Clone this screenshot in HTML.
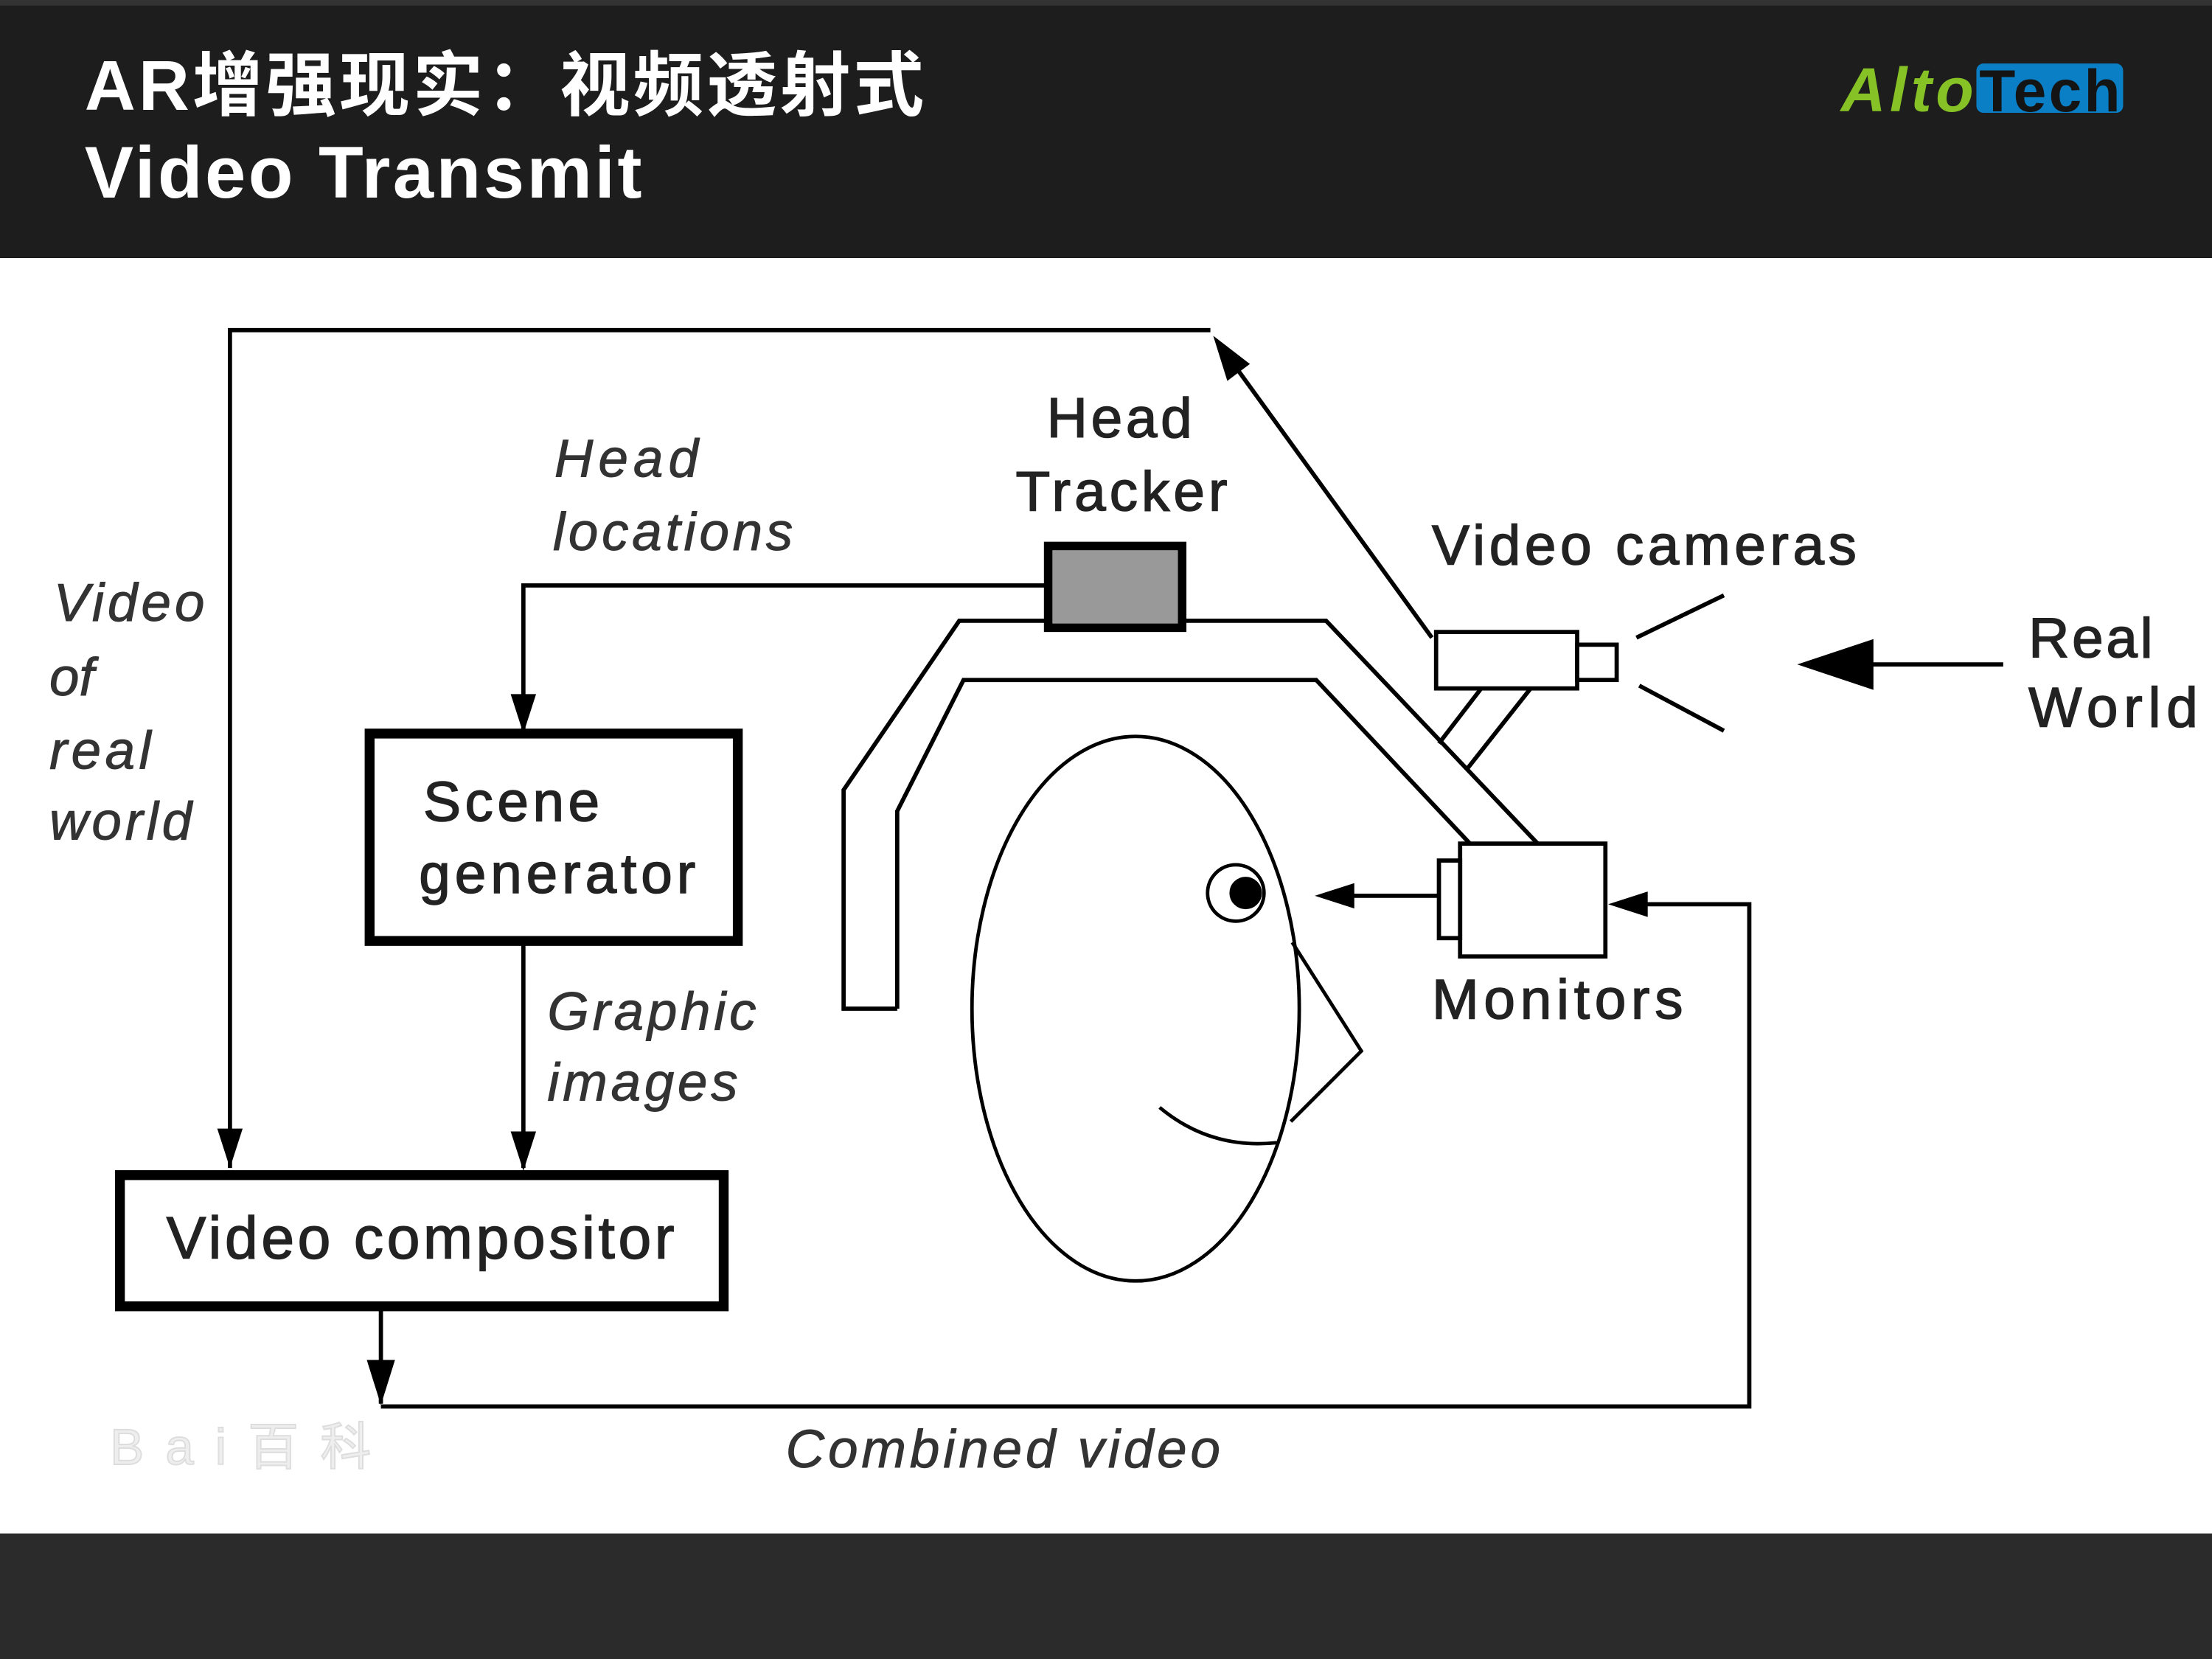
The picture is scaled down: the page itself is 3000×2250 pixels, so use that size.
<!DOCTYPE html>
<html><head><meta charset="utf-8"><style>
html,body{margin:0;padding:0;background:#fff;}
svg{display:block;}
</style></head><body>
<svg width="3000" height="2250" viewBox="0 0 1568 1176" preserveAspectRatio="none" xmlns="http://www.w3.org/2000/svg">
<rect x="0" y="0" width="1568" height="183" fill="#1c1d1c"/>
<rect x="0" y="0" width="1568" height="4" fill="#333"/>
<rect x="0" y="183" width="1568" height="904" fill="#fff"/>
<rect x="0" y="1087" width="1568" height="89" fill="#2b2b2b"/>
<text x="60" y="78" fill="#fff" font-family="Liberation Sans, Noto Sans CJK SC, sans-serif" font-weight="bold" font-size="50" textLength="595">AR增强现实：视频透射式</text>
<text x="60" y="140" fill="#fff" font-family="Liberation Sans, sans-serif" font-weight="bold" font-size="52" textLength="395">Video Transmit</text>
<text x="1305" y="79" fill="#86c226" font-family="Liberation Sans, sans-serif" font-weight="bold" font-style="italic" font-size="44" textLength="94">Alto</text>
<rect x="1401" y="45" width="104" height="35" rx="5" fill="#0a7fc6"/>
<text x="1403" y="79" fill="#141414" font-family="Liberation Sans, sans-serif" font-weight="bold" font-size="42" textLength="100">Tech</text>

<g fill="none" stroke="#000" stroke-width="3">
<polyline points="858,234 163,234 163,828"/>
<path d="M163,828 l-9,-28 h18 z" fill="#000" stroke="none"/>
<line x1="1015" y1="452" x2="870" y2="252"/>
<path d="M860,238 l26,20 l-16,12 z" fill="#000" stroke="none"/>
<polyline points="743,415 371,415 371,518"/>
<path d="M371,520 l-9,-28 h18 z" fill="#000" stroke="none"/>
<line x1="371" y1="667" x2="371" y2="828"/>
<path d="M371,830 l-9,-28 h18 z" fill="#000" stroke="none"/>
<line x1="270" y1="926" x2="270" y2="995"/>
<path d="M270,996 l-10,-32 h20 z" fill="#000" stroke="none"/>
<polyline points="270,997 1240,997 1240,641 1145,641"/>
<path d="M1140,641 l28,-9 v18 z" fill="#000" stroke="none"/>
<polyline points="636,715 598,715 598,560 680,440 940,440 1090,598"/>
<polyline points="636,715 636,575 683,482 933,482 1042,598"/>
<line x1="1020" y1="527" x2="1050" y2="488"/>
<line x1="1040" y1="545" x2="1085" y2="488"/>
<rect x="1018" y="448" width="100" height="40" fill="#fff"/>
<rect x="1118" y="457" width="28" height="25" fill="#fff"/>
<line x1="1160" y1="452" x2="1222" y2="422"/>
<line x1="1162" y1="486" x2="1222" y2="518"/>
<line x1="1420" y1="471" x2="1300" y2="471"/>
<path d="M1274,471 l54,-18 v36 z" fill="#000" stroke="none"/>
<rect x="1035" y="598" width="103" height="80" fill="#fff"/>
<rect x="1020" y="610" width="15" height="55" fill="#fff"/>
<line x1="1020" y1="635" x2="955" y2="635"/>
<path d="M932,635 l28,-9 v18 z" fill="#000" stroke="none"/>
<ellipse cx="805" cy="715" rx="116" ry="193" fill="#fff" stroke-width="2.5"/>
<polyline points="916,668 965,745 915,795" stroke-width="2.5"/>
<circle cx="876" cy="633" r="20" fill="#fff" stroke-width="2.5"/>
<circle cx="883" cy="633" r="10" fill="#000"/>
<path d="M822,785 Q858,815 905,810" stroke-width="2.5"/>
</g>
<rect x="743" y="387" width="95" height="58" fill="#999" stroke="#000" stroke-width="6"/>
<rect x="262" y="520" width="261" height="147" fill="#fff" stroke="#000" stroke-width="7"/>
<rect x="85" y="833" width="428" height="93" fill="#fff" stroke="#000" stroke-width="7"/>
<g font-family="Liberation Sans, sans-serif" font-size="40" fill="#222" stroke="#222" stroke-width="0.8">
<text x="300" y="582" textLength="125">Scene</text>
<text x="297" y="633" textLength="196">generator</text>
<text x="118" y="892" font-size="42" textLength="360">Video compositor</text>
<text x="742" y="310" textLength="103">Head</text>
<text x="720" y="362" textLength="150">Tracker</text>
<text x="1015" y="400" textLength="301">Video cameras</text>
<text x="1438" y="466" textLength="88">Real</text>
<text x="1438" y="515" textLength="120">World</text>
<text x="1015" y="722" textLength="178">Monitors</text>
</g>
<g font-family="Liberation Sans, sans-serif" font-size="38" font-style="italic" fill="#333" stroke="#333" stroke-width="0.5">
<text x="393" y="338" textLength="102">Head</text>
<text x="392" y="390" textLength="170">locations</text>
<text x="38" y="440" textLength="107">Video</text>
<text x="35" y="493">of</text>
<text x="35" y="545" textLength="72">real</text>
<text x="35" y="595" textLength="101">world</text>
<text x="388" y="730" textLength="148">Graphic</text>
<text x="388" y="780" textLength="135">images</text>
<text x="557" y="1040" textLength="308">Combined video</text>
</g>
<text x="78" y="1038" font-family="Liberation Sans, Noto Sans CJK SC, sans-serif" font-size="36" fill="#eee" stroke="#ddd" stroke-width="1" textLength="185">Bai百科</text>
</svg>
</body></html>
